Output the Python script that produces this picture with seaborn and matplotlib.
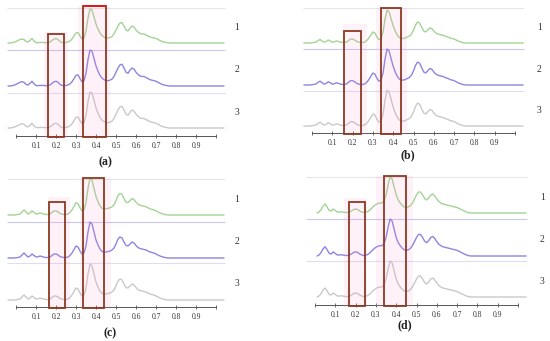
import numpy as np
import pandas as pd
import matplotlib
matplotlib.use("Agg")
import matplotlib.pyplot as plt
from matplotlib.patches import Rectangle
import seaborn as sns

sns.set_theme(style="white")
plt.rcParams["font.family"] = ["Liberation Serif", "DejaVu Serif"]

# ---------------- data ----------------
x_pos = [-0.04, -0.03, -0.02, -0.01, 0.00, 0.01, 0.02, 0.03, 0.04, 0.05, 0.06, 0.07, 0.08, 0.09,
         0.10, 0.11, 0.12, 0.13, 0.14, 0.15, 0.16, 0.17, 0.18, 0.19, 0.20, 0.21, 0.22, 0.23,
         0.24, 0.25, 0.26, 0.27, 0.28, 0.29, 0.30, 0.31, 0.32, 0.33, 0.34, 0.35, 0.36, 0.37,
         0.38, 0.39, 0.40, 0.41, 0.42, 0.43, 0.44, 0.45, 0.46, 0.47, 0.48, 0.49, 0.50, 0.51,
         0.52, 0.53, 0.54, 0.55, 0.56, 0.57, 0.58, 0.59, 0.60, 0.61, 0.62, 0.63, 0.64, 0.65,
         0.66, 0.67, 0.68, 0.69, 0.70, 0.71, 0.72, 0.73, 0.74, 0.75, 0.76, 0.77, 0.78, 0.79,
         0.80, 1.04]

spec_a = [0, 0, 0.3, 0.8, 1.5, 2.5, 3.5, 4, 3.5, 1.5, 1, 2.5, 4.5, 2,
          0.5, 0.3, 0.5, 0.6, 0.4, 0.3, 0.5, 1, 2.5, 4, 4.5, 3.5, 1.5, 0.5,
          0.3, 0.5, 1, 2, 4, 7, 10, 10.5, 7, 4, 5, 12, 25, 34,
          33, 26, 19, 14, 10, 7.5, 6, 5, 5, 5.5, 6.5, 9, 13, 17,
          20, 20.5, 17, 13, 12, 15, 17, 16, 13, 11, 9.5, 9, 9, 8,
          7, 6, 5.5, 5, 4.5, 3.5, 2.5, 1.5, 1, 0.5, 0.2, 0, 0, 0,
          0, 0]
spec_b = [0, 0, 0, 0, 0.3, 0.5, 1, 2.5, 3.5, 2, 0.8, 1.5, 3, 2,
          0.8, 1.2, 2, 1.5, 0.8, 0.5, 0.5, 1, 2.5, 4, 4, 3, 1.5, 0.8,
          0.5, 0.5, 1, 2.5, 5, 8, 11, 10, 6, 3.5, 4.5, 11, 24, 33,
          31, 24, 17, 12, 8, 5.5, 4.5, 4.5, 5, 6, 7, 9, 13, 18,
          21, 20, 16, 12, 11, 13, 15, 14.5, 12, 10, 9, 8.5, 8, 7.5,
          6.5, 6, 5, 4.5, 4, 3, 2, 1.2, 0.6, 0.2, 0, 0, 0, 0,
          0, 0]
spec_c = [0, 0, 0, 0, 0.3, 0.5, 1, 3, 5, 3, 1, 2, 4, 2.5,
          1, 1.2, 2, 1.5, 0.8, 0.5, 0.5, 1, 2.5, 4, 4, 3, 1.5, 0.8,
          0.5, 0.5, 1, 2.5, 5, 8.5, 12, 11, 7, 4, 5, 12, 26, 36,
          34, 26, 18, 13, 9, 6.5, 6, 6, 6.5, 7, 8, 10, 14, 19,
          21, 20, 16, 12.5, 12, 14, 16, 15, 12.5, 10.5, 9.5, 9, 8.5, 8,
          7, 6, 5.5, 5, 4, 3, 2, 1.3, 0.7, 0.3, 0, 0, 0, 0,
          0, 0]
spec_d = [np.nan, np.nan, np.nan, np.nan, np.nan, 0, 1, 3.5, 7, 9, 6, 2.5, 2, 4,
          2.5, 1, 1, 1.2, 0.8, 0.5, 0.5, 1, 2, 3.5, 4, 3.5, 2, 1,
          0.5, 0.8, 1.5, 3, 5, 7, 8.5, 9.5, 10, 10, 12, 18, 28, 36,
          34, 26, 18, 13, 10, 7.5, 6, 5.5, 6, 7.5, 10, 14, 18, 21,
          21, 18, 14.5, 13, 15, 18, 19, 17, 14, 11.5, 10, 9, 8.5, 8,
          7.5, 7, 6.5, 6, 5.5, 4.5, 3.5, 2.5, 1.5, 0.7, 0.2, 0, 0, 0,
          0, 0]

panels = ["(a)", "(b)", "(c)", "(d)"]
row_names = ["1", "2", "3"]
row_colors = ["#a3d494", "#8a86e2", "#c9c9c9"]
peak_heights = {"(a)": [34, 36, 36], "(b)": [33, 36, 36], "(c)": [37, 36, 36], "(d)": [36, 37, 36]}
baselines = {"(a)": [93, 50, 8], "(b)": [90, 48, 7], "(c)": [92, 49, 7], "(d)": [92, 49, 8]}
top_line = {"(a)": 128, "(b)": 125, "(c)": 128, "(d)": 128}
separators = {"(a)": [86, 43], "(b)": [84, 42], "(c)": [85, 44], "(d)": [86, 44]}
boxes = {"(a)": [(0.160, 0.240, 102), (0.337, 0.448, 130)],
         "(b)": [(0.158, 0.239, 102), (0.338, 0.436, 125)],
         "(c)": [(0.165, 0.245, 105), (0.333, 0.440, 129)],
         "(d)": [(0.167, 0.245, 103), (0.338, 0.449, 129)]}
bands = {"(a)": [(0.140, 0.260, 104), (0.310, 0.470, 130)],
         "(b)": [(0.155, 0.270, 109), (0.314, 0.469, 125)],
         "(c)": [(0.160, 0.270, 110), (0.320, 0.475, 129)],
         "(d)": [(0.142, 0.258, 107), (0.302, 0.482, 129)]}
tick_vals = [0.0, 0.1, 0.2, 0.3, 0.4, 0.5, 0.6, 0.7, 0.8, 0.9, 1.0]
tick_labels = ["", "0.1", "0.2", "0.3", "0.4", "0.5", "0.6", "0.7", "0.8", "0.9", ""]
spectra = {"(a)": spec_a, "(b)": spec_b, "(c)": spec_c, "(d)": spec_d}

# layout (pixels): zero-x, px per unit, axis-line y, panel-label x, y
layout = {"(a)": (16, 200, 136, 0.445, -26),
          "(b)": (312, 203, 133, 0.47, -22),
          "(c)": (16, 200, 307, 0.47, -26),
          "(d)": (315, 203, 305, 0.44, -20)}

W, H = 550, 341
fig = plt.figure(figsize=(W / 100, H / 100), dpi=100)

XMIN, XMAX, YMIN, YMAX = -0.06, 1.08, -12, 134

for p in panels:
    zx, ppu, ay, lab_x, lab_y = layout[p]
    left = zx + XMIN * ppu
    width = (XMAX - XMIN) * ppu
    bottom = ay - YMIN
    height = YMAX - YMIN
    ax = fig.add_axes([left / W, 1 - bottom / H, width / W, height / H])
    ax.set_xlim(XMIN, XMAX)
    ax.set_ylim(YMIN, YMAX)

    spec = np.array(spectra[p], dtype=float)
    smax = np.nanmax(spec)
    rows = []
    for r, name in enumerate(row_names):
        y = spec / smax * peak_heights[p][r] + baselines[p][r]
        rows.append(pd.DataFrame({"x": x_pos, "y": y, "row": name}))
    df = pd.concat(rows).dropna()

    # guide lines
    ax.hlines(top_line[p], -0.045, 1.045, color="#e3e8e3", lw=0.8, zorder=1)
    ax.hlines(separators[p][0], -0.045, 1.045, color="#c9c9ef", lw=0.8, zorder=1)
    ax.hlines(separators[p][1], -0.045, 1.045, color="#dedef0", lw=0.8, zorder=1)

    sns.lineplot(data=df, x="x", y="y", hue="row", palette=row_colors,
                 hue_order=row_names, ax=ax, lw=1.0, legend=False, zorder=2,
                 estimator=None, sort=False)

    for (b0, b1, bt) in bands[p]:
        ax.add_patch(Rectangle((b0, -2), b1 - b0, bt + 2, facecolor="#ff8ccc",
                               alpha=0.12, edgecolor="none", zorder=3))
    for i, (b0, b1, bt) in enumerate(boxes[p]):
        ax.add_patch(Rectangle((b0, -1), b1 - b0, bt + 1, facecolor="none",
                               edgecolor="#8a3a22", lw=1.3, zorder=4))
        if p == "(a)" and i == 1:
            ax.hlines(bt, b0, b1, color="#e21a1a", lw=1.4, zorder=5)

    for r, name in enumerate(row_names):
        ax.text(1.105 if p in ("(a)", "(c)") else 1.12, baselines[p][r] + 16, name,
                fontsize=7, color="#333333", ha="center", va="center", clip_on=False)
    ax.text(lab_x, lab_y, p, fontsize=8.5, fontweight="bold", color="#222222",
            ha="center", va="center", clip_on=False)

    for s in ["top", "right", "left"]:
        ax.spines[s].set_visible(False)
    ax.spines["bottom"].set_position(("data", 0))
    ax.spines["bottom"].set_bounds(0.0, 1.0)
    ax.spines["bottom"].set_color("#555555")
    ax.spines["bottom"].set_linewidth(0.7)
    ax.set_xticks(tick_vals)
    ax.set_xticklabels(tick_labels)
    ax.set_yticks([])
    ax.tick_params(axis="x", direction="inout", length=3, width=0.6, colors="#555555",
                   labelsize=5.5, labelcolor="#333333", pad=3, bottom=True)
    ax.set_xlabel("")
    ax.set_ylabel("")
    ax.patch.set_alpha(0)

fig.savefig("out.png", dpi=100)
